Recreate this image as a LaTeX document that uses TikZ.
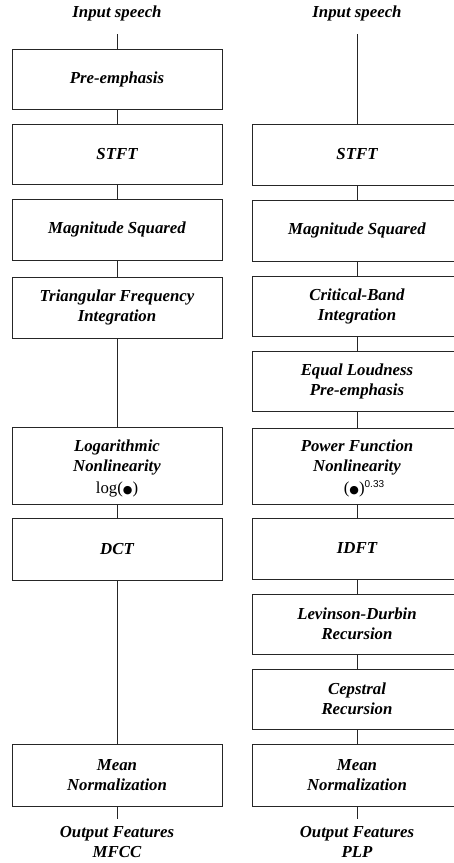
\documentclass[tikz,border=0pt]{standalone}
\usepackage{fontspec}
\setmainfont{Liberation Serif}
\newfontfamily\supfont{Liberation Sans}
\newfontfamily\symfont{DejaVu Sans}
\newcommand{\argdot}{{\symfont\fontsize{11}{11}\selectfont ●}}
\begin{document}
\begin{tikzpicture}[x=1pt,y=-1pt,
  stage/.style={draw=black!85, line width=0.8pt, fill=white, minimum width=210pt,
    inner sep=0pt, align=center,
    font=\fontsize{16.8}{20}\selectfont\bfseries\itshape},
  caption/.style={align=center, inner sep=0pt,
    font=\fontsize{16.8}{20}\selectfont\bfseries\itshape},
  link/.style={draw=black!85, line width=0.8pt}]
\clip (0,0) rectangle (454,863);
\fill[white] (0,0) rectangle (454,863);

% ---- MFCC front end (left column) ----
\node[caption] (inL) at (117,13) {Input speech};
\coordinate (inLend) at (117,34);
\node[stage, minimum height=60pt] (pre)  at (117,79)   {Pre-emphasis};
\node[stage, minimum height=60pt] (stftL) at (117,154) {STFT};
\node[stage, minimum height=61pt] (magL) at (117,229.5) {Magnitude Squared};
\node[stage, minimum height=61pt] (tri)  at (117,307.5) {Triangular Frequency\\Integration};
\node[stage, minimum height=77pt] (logn) at (117,465.5)
  {\rule{0pt}{17pt}Logarithmic\\Nonlinearity\\[2pt]{\mdseries\upshape log(\argdot)}};
\node[stage, minimum height=62pt] (dct)  at (117,549)   {DCT};
\node[stage, minimum height=62pt] (meanL) at (117,775)  {Mean\\Normalization};
\coordinate (outLend) at (117,819);
\node[caption] (outL) at (117,842) {Output Features\\MFCC};

\draw[link] (inLend) -- (pre);
\draw[link] (pre) -- (stftL);
\draw[link] (stftL) -- (magL);
\draw[link] (magL) -- (tri);
\draw[link] (tri) -- (logn);
\draw[link] (logn) -- (dct);
\draw[link] (dct) -- (meanL);
\draw[link] (meanL) -- (outLend);

% ---- PLP front end (right column) ----
\node[caption] (inR) at (357,13) {Input speech};
\coordinate (inRend) at (357,34);
\node[stage, minimum height=61pt] (stftR) at (357,154.5) {STFT};
\node[stage, minimum height=61pt] (magR)  at (357,230.5) {Magnitude Squared};
\node[stage, minimum height=60pt] (crit)  at (357,306)   {Critical-Band\\Integration};
\node[stage, minimum height=60pt] (loud)  at (357,381)   {Equal Loudness\\Pre-emphasis};
\node[stage, minimum height=76pt] (pow)   at (357,466)
  {\rule{0pt}{17pt}Power Function\\Nonlinearity\\[2pt]{\mdseries\upshape\hspace*{14pt}(\argdot)\raisebox{6pt}{\supfont\fontsize{10}{10}\selectfont 0.33}}};
\node[stage, minimum height=61pt] (idft)  at (357,548.5) {IDFT};
\node[stage, minimum height=60pt] (lev)   at (357,624)   {Levinson-Durbin\\Recursion};
\node[stage, minimum height=60pt] (ceps)  at (357,699)   {Cepstral\\Recursion};
\node[stage, minimum height=62pt] (meanR) at (357,775)   {Mean\\Normalization};
\coordinate (outRend) at (357,819);
\node[caption] (outR) at (357,842) {Output Features\\PLP};

\draw[link] (inRend) -- (stftR);
\draw[link] (stftR) -- (magR);
\draw[link] (magR) -- (crit);
\draw[link] (crit) -- (loud);
\draw[link] (loud) -- (pow);
\draw[link] (pow) -- (idft);
\draw[link] (idft) -- (lev);
\draw[link] (lev) -- (ceps);
\draw[link] (ceps) -- (meanR);
\draw[link] (meanR) -- (outRend);
\end{tikzpicture}
\end{document}
